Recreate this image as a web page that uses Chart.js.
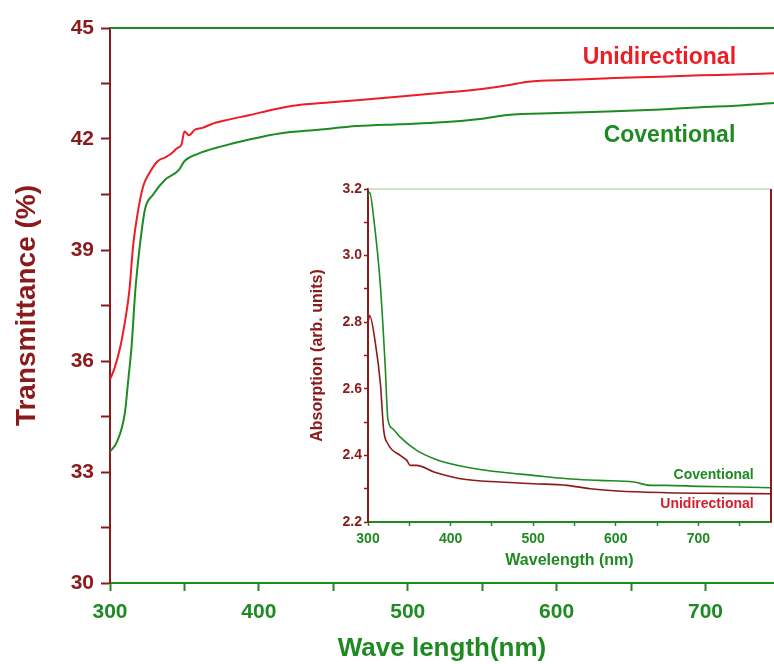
<!DOCTYPE html>
<html>
<head>
<meta charset="utf-8">
<script src="https://cdn.jsdelivr.net/npm/chart.js@4"></script>
<style>
  body { margin: 0; background: #fff; }
  #wrap { position: relative; width: 774px; height: 664px; }
  #main { position: absolute; left: 0; top: 0; }
  #inset { position: absolute; left: 296px; top: 176px; }
</style>
</head>
<body>
<div id="wrap">
  <canvas id="main" width="774" height="664"></canvas>
  <canvas id="inset" width="478" height="404"></canvas>
</div>
<script>
// main plot: transmittance vs wavelength
const uniWl = [300, 303, 307, 311, 313, 315.5, 319, 322.5, 326, 332, 337, 341, 345, 348, 350, 353, 357, 362, 368, 377, 394, 410, 423, 445, 466, 495, 523, 550, 567, 581, 610, 639, 670, 697, 720, 746];
const uniT  = [35.5, 35.8, 36.4, 37.3, 37.9, 39.1, 40.1, 40.75, 41.05, 41.4, 41.5, 41.6, 41.75, 41.85, 42.2, 42.1, 42.25, 42.3, 42.4, 42.5, 42.65, 42.8, 42.9, 42.98, 43.05, 43.15, 43.25, 43.35, 43.45, 43.55, 43.6, 43.65, 43.68, 43.72, 43.74, 43.78];

const convWl = [300, 304.5, 310, 312.3, 314.5, 317, 320, 323.5, 329, 337, 346, 350, 359, 375, 395, 414, 440, 466, 495, 523, 550, 567, 600, 639, 670, 697, 720, 746];
const convT  = [33.55, 33.8, 34.6, 35.5, 36.4, 37.9, 39.1, 40.1, 40.5, 40.9, 41.15, 41.4, 41.6, 41.8, 42.0, 42.15, 42.25, 42.35, 42.4, 42.45, 42.55, 42.65, 42.7, 42.75, 42.8, 42.86, 42.9, 42.97];

// inset: absorption vs wavelength
const insConvWl = [300, 302, 307, 315, 321, 324, 330, 339, 359, 380, 400, 430, 460, 500, 541, 580, 622, 642, 660, 703, 750, 788];
const insConv   = [3.18, 3.19, 3.11, 2.91, 2.66, 2.51, 2.48, 2.455, 2.415, 2.39, 2.375, 2.36, 2.35, 2.34, 2.33, 2.325, 2.32, 2.31, 2.31, 2.307, 2.305, 2.303];
const insUniWl = [300, 302, 309, 315, 319, 324, 339, 347, 351, 359, 380, 412, 460, 500, 541, 569, 602, 662, 720, 788];
const insUni   = [2.8, 2.82, 2.736, 2.616, 2.476, 2.435, 2.40, 2.385, 2.37, 2.37, 2.35, 2.33, 2.32, 2.315, 2.31, 2.30, 2.293, 2.288, 2.286, 2.285];

const MAROON = '#8b1a1a';
const GREEN = '#1e8a22';
const RED = '#ee1c25';
const FONT = 'Arial, "Liberation Sans", sans-serif';

const pts = (xs, ys) => xs.map((x, i) => ({ x: x, y: ys[i] }));

const frameText = {
  id: 'frameText',
  afterDraw(chart, args, opts) {
    const ctx = chart.ctx, a = chart.chartArea;
    const sx = chart.scales.x, sy = chart.scales.y;
    ctx.save();
    ctx.strokeStyle = opts.topColor;
    ctx.lineWidth = opts.topWidth;
    ctx.beginPath();
    ctx.moveTo(a.left, a.top);
    ctx.lineTo(a.right, a.top);
    ctx.stroke();
    if (opts.rightColor) {
      ctx.strokeStyle = opts.rightColor;
      ctx.lineWidth = 2;
      ctx.beginPath();
      ctx.moveTo(a.right, a.top);
      ctx.lineTo(a.right, a.bottom);
      ctx.stroke();
    }
    opts.labels.forEach(l => {
      ctx.font = 'bold ' + l.size + 'px ' + FONT;
      ctx.fillStyle = l.color;
      ctx.textAlign = 'right';
      ctx.textBaseline = 'middle';
      ctx.fillText(l.text, sx.getPixelForValue(l.x), sy.getPixelForValue(l.y));
    });
    ctx.restore();
  }
};

new Chart(document.getElementById('main'), {
  type: 'line',
  data: {
    datasets: [
      { label: 'Unidirectional', data: pts(uniWl, uniT), borderColor: RED, borderWidth: 2, pointRadius: 0, cubicInterpolationMode: 'monotone' },
      { label: 'Coventional', data: pts(convWl, convT), borderColor: GREEN, borderWidth: 2, pointRadius: 0, cubicInterpolationMode: 'monotone' }
    ]
  },
  options: {
    responsive: false,
    animation: false,
    devicePixelRatio: 1,
    layout: { padding: { top: 28, right: 0, left: 0, bottom: 0 } },
    plugins: {
      legend: { display: false },
      tooltip: { enabled: false },
      frameText: {
        topColor: GREEN, topWidth: 2,
        labels: [
          { text: 'Unidirectional', x: 720.5, y: 44.2, color: RED, size: 23 },
          { text: 'Coventional', x: 720, y: 42.1, color: GREEN, size: 23 }
        ]
      }
    },
    scales: {
      x: {
        type: 'linear', min: 300, max: 746,
        afterFit: s => { s.height = 81; },
        border: { color: GREEN, width: 2 },
        grid: { drawOnChartArea: false, tickLength: 8, tickColor: GREEN, tickWidth: 2 },
        ticks: {
          stepSize: 50, includeBounds: false, maxRotation: 0, autoSkip: false, padding: 9,
          color: GREEN, font: { family: FONT, size: 21, weight: 'bold' },
          callback: v => (v % 100 === 0 ? v : '')
        },
        title: { display: true, text: 'Wave length(nm)', color: GREEN, font: { family: FONT, size: 26, weight: 'bold' }, padding: { top: 0, bottom: 0 } }
      },
      y: {
        min: 30, max: 45,
        afterFit: s => { s.width = 110; },
        border: { color: MAROON, width: 2 },
        grid: { drawOnChartArea: false, tickLength: 9, tickColor: MAROON, tickWidth: 2 },
        ticks: {
          stepSize: 1.5, includeBounds: false, autoSkip: false, padding: 7,
          color: MAROON, font: { family: FONT, size: 21, weight: 'bold' },
          callback: v => (Math.abs(v % 3) < 1e-6 ? v : '')
        },
        title: { display: true, text: 'Transmittance (%)', color: MAROON, font: { family: FONT, size: 28, weight: 'bold' }, padding: { top: 10, bottom: 0 } }
      }
    }
  },
  plugins: [frameText]
});

new Chart(document.getElementById('inset'), {
  type: 'line',
  data: {
    datasets: [
      { label: 'Coventional', data: pts(insConvWl, insConv), borderColor: GREEN, borderWidth: 1.6, pointRadius: 0, cubicInterpolationMode: 'monotone' },
      { label: 'Unidirectional', data: pts(insUniWl, insUni), borderColor: MAROON, borderWidth: 1.6, pointRadius: 0, cubicInterpolationMode: 'monotone' }
    ]
  },
  options: {
    responsive: false,
    animation: false,
    devicePixelRatio: 1,
    layout: { padding: { top: 13, right: 3, left: 0, bottom: 0 } },
    plugins: {
      legend: { display: false },
      tooltip: { enabled: false },
      frameText: {
        topColor: '#9fc79f', topWidth: 1, rightColor: MAROON,
        labels: [
          { text: 'Coventional', x: 767, y: 2.342, color: GREEN, size: 14 },
          { text: 'Unidirectional', x: 767, y: 2.253, color: '#d3202c', size: 14 }
        ]
      }
    },
    scales: {
      x: {
        type: 'linear', min: 300, max: 788,
        afterFit: s => { s.height = 58; },
        border: { color: GREEN, width: 2 },
        grid: { drawOnChartArea: false, tickLength: 4, tickColor: GREEN, tickWidth: 1.5 },
        ticks: {
          stepSize: 50, includeBounds: false, maxRotation: 0, autoSkip: false, padding: 5,
          color: GREEN, font: { family: FONT, size: 14, weight: 'bold' },
          callback: v => (v % 100 === 0 ? v : '')
        },
        title: { display: true, text: 'Wavelength (nm)', color: GREEN, font: { family: FONT, size: 16, weight: 'bold' }, padding: { top: 0, bottom: 10 } }
      },
      y: {
        min: 2.2, max: 3.2,
        afterFit: s => { s.width = 72; },
        border: { color: MAROON, width: 2 },
        grid: { drawOnChartArea: false, tickLength: 4, tickColor: MAROON, tickWidth: 1.5 },
        ticks: {
          stepSize: 0.1, autoSkip: false, padding: 2,
          color: MAROON, font: { family: FONT, size: 14, weight: 'bold' },
          callback: v => (Math.round(v * 10) % 2 === 0 ? v.toFixed(1) : '')
        },
        title: { display: true, text: 'Absorption (arb. units)', color: MAROON, font: { family: FONT, size: 16, weight: 'bold' }, padding: { top: 12, bottom: 0 } }
      }
    }
  },
  plugins: [frameText]
});
</script>
</body>
</html>
